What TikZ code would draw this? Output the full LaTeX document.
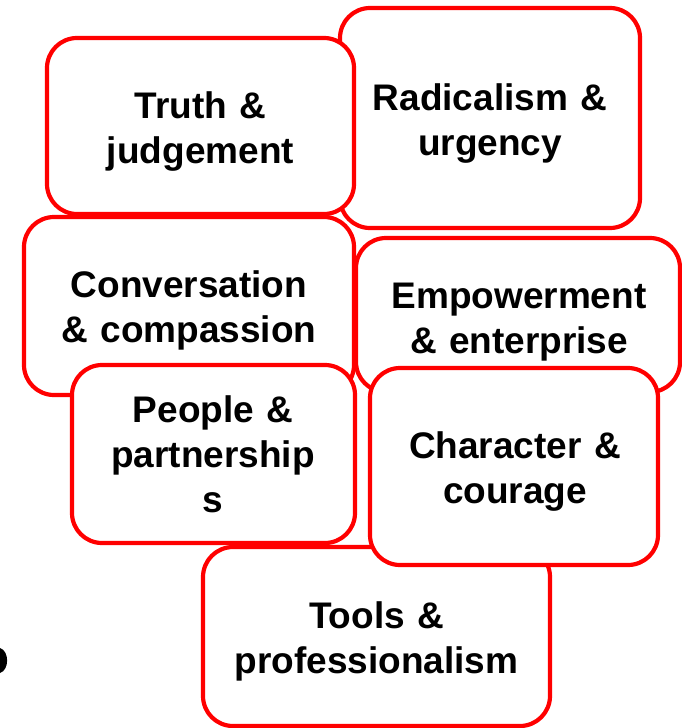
\documentclass[tikz,border=0pt]{standalone}
\usepackage{fontspec}
\setmainfont{Liberation Sans}
\begin{document}
\begin{tikzpicture}[x=1pt,y=-1pt,
  cbox/.style={draw=red, line width=4.2pt, fill=white, rounded corners=30pt, inner sep=0pt, shape=rectangle},
  lbl/.style={anchor=base, align=center, text width=340pt, inner sep=0pt,
              font=\fontsize{37}{45}\selectfont\bfseries}]
\useasboundingbox (0,0) rectangle (682,728);

\node[cbox, minimum width=300pt, minimum height=220pt] (rad) at (490,118) {};
\node[lbl] (radt) at (490,110) {Radicalism \&\\urgency};

\node[cbox, minimum width=307pt, minimum height=176pt] (tru) at (200.5,126) {};
\node[lbl] (trut) at (200.5,118) {Truth \&\\judgement};

\node[cbox, minimum width=330pt, minimum height=178pt] (con) at (189,306) {};
\node[lbl] (cont) at (189,297) {Conversation\\\& compassion};

\node[cbox, minimum width=324pt, minimum height=154pt] (emp) at (518,315) {};
\node[lbl] (empt) at (519,308) {Empowerment\\\& enterprise};

\node[cbox, minimum width=283pt, minimum height=178pt] (peo) at (213.5,454) {};
\node[lbl] (peot) at (213,422) {People \&\\partnership\\s};

\node[cbox, minimum width=347pt, minimum height=179pt] (too) at (376.5,636.5) {};
\node[lbl] (toot) at (376.5,628) {Tools \&\\professionalism};

\node[cbox, minimum width=288pt, minimum height=197pt] (cha) at (514,466.5) {};
\node[lbl] (chat) at (515,458) {Character \&\\courage};

\fill[black] (0,648) .. controls (9.5,651) and (9.5,670) .. (0,673) -- cycle;
\end{tikzpicture}
\end{document}
